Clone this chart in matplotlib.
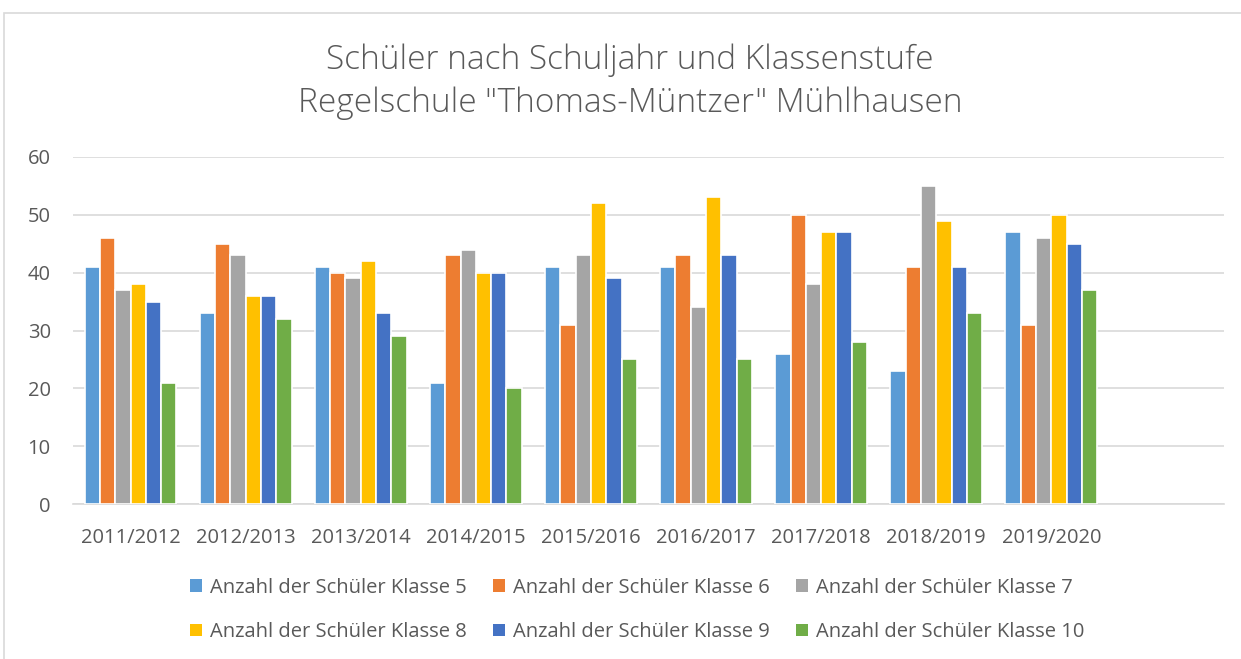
import matplotlib
matplotlib.use("Agg")
import matplotlib.pyplot as plt
import numpy as np
from matplotlib.patches import Rectangle, Patch

plt.rcParams['font.family'] = ['Open Sans', 'DejaVu Sans']

years = ['2011/2012', '2012/2013', '2013/2014', '2014/2015', '2015/2016',
         '2016/2017', '2017/2018', '2018/2019', '2019/2020', '']
series_names = ['Anzahl der Schüler Klasse 5', 'Anzahl der Schüler Klasse 6',
                'Anzahl der Schüler Klasse 7', 'Anzahl der Schüler Klasse 8',
                'Anzahl der Schüler Klasse 9', 'Anzahl der Schüler Klasse 10']
klasse5 = [41, 33, 41, 21, 41, 41, 26, 23, 47, np.nan]
klasse6 = [46, 45, 40, 43, 31, 43, 50, 41, 31, np.nan]
klasse7 = [37, 43, 39, 44, 43, 34, 38, 55, 46, np.nan]
klasse8 = [38, 36, 42, 40, 52, 53, 47, 49, 50, np.nan]
klasse9 = [35, 36, 33, 40, 39, 43, 47, 41, 45, np.nan]
klasse10 = [21, 32, 29, 20, 25, 25, 28, 33, 37, np.nan]
colors = ['#5B9BD5', '#ED7D31', '#A5A5A5', '#FFC000', '#4472C4', '#70AD47']

text_col = '#595959'
grid_col = '#D9D9D9'

fig = plt.figure(figsize=(12.41, 6.59), dpi=100)
# chart border
fig.patches.append(Rectangle((4 / 1241, -0.01), 1.0, 1 - 13 / 659 + 0.01,
                             transform=fig.transFigure, fill=False,
                             edgecolor=grid_col, linewidth=1.2))

ax = fig.add_axes([73 / 1241, 1 - 504 / 659, (1224 - 73) / 1241, (504 - 157) / 659])

all_series = [klasse5, klasse6, klasse7, klasse8, klasse9, klasse10]
x = np.arange(len(years))
slot = 0.133
for i, vals in enumerate(all_series):
    ax.bar(x + (i - 2.5) * slot, vals, width=slot, color=colors[i],
           edgecolor='white', linewidth=1.2, label=series_names[i], zorder=3)

ax.set_xlim(-0.5, len(years) - 0.5)
ax.set_ylim(0, 60)
ax.set_yticks(range(0, 61, 10))
ax.set_xticks(x)
ax.set_xticklabels(years)
ax.yaxis.grid(True, color=grid_col, linewidth=1.2, zorder=0)
ax.set_axisbelow(True)
for s in ['top', 'right', 'left']:
    ax.spines[s].set_visible(False)
ax.spines['bottom'].set_color(grid_col)
ax.spines['bottom'].set_linewidth(1.2)
ax.tick_params(length=0, labelsize=14.5, colors=text_col)
ax.tick_params(axis='x', pad=17)
ax.tick_params(axis='y', pad=16)

for y_pos, line in [(60, 'Schüler nach Schuljahr und Klassenstufe'),
                    (103, 'Regelschule "Thomas-Müntzer" Mühlhausen')]:
    fig.text(630 / 1241, 1 - y_pos / 659, line, ha='center', va='center',
             fontsize=24, color=text_col, fontweight='light')

# row-major legend order (matplotlib fills column by column)
order = [0, 3, 1, 4, 2, 5]
handles = [Patch(facecolor=colors[i]) for i in order]
labels = [series_names[i] for i in order]
leg = fig.legend(handles, labels, loc='center', ncol=3,
                 bbox_to_anchor=(637 / 1241, 1 - 610 / 659), frameon=False,
                 fontsize=14.5, handlelength=0.6, handleheight=0.6,
                 handletextpad=0.4, columnspacing=1.3, labelspacing=1.2)
for t in leg.get_texts():
    t.set_color(text_col)

fig.savefig('out.png', dpi=100)
